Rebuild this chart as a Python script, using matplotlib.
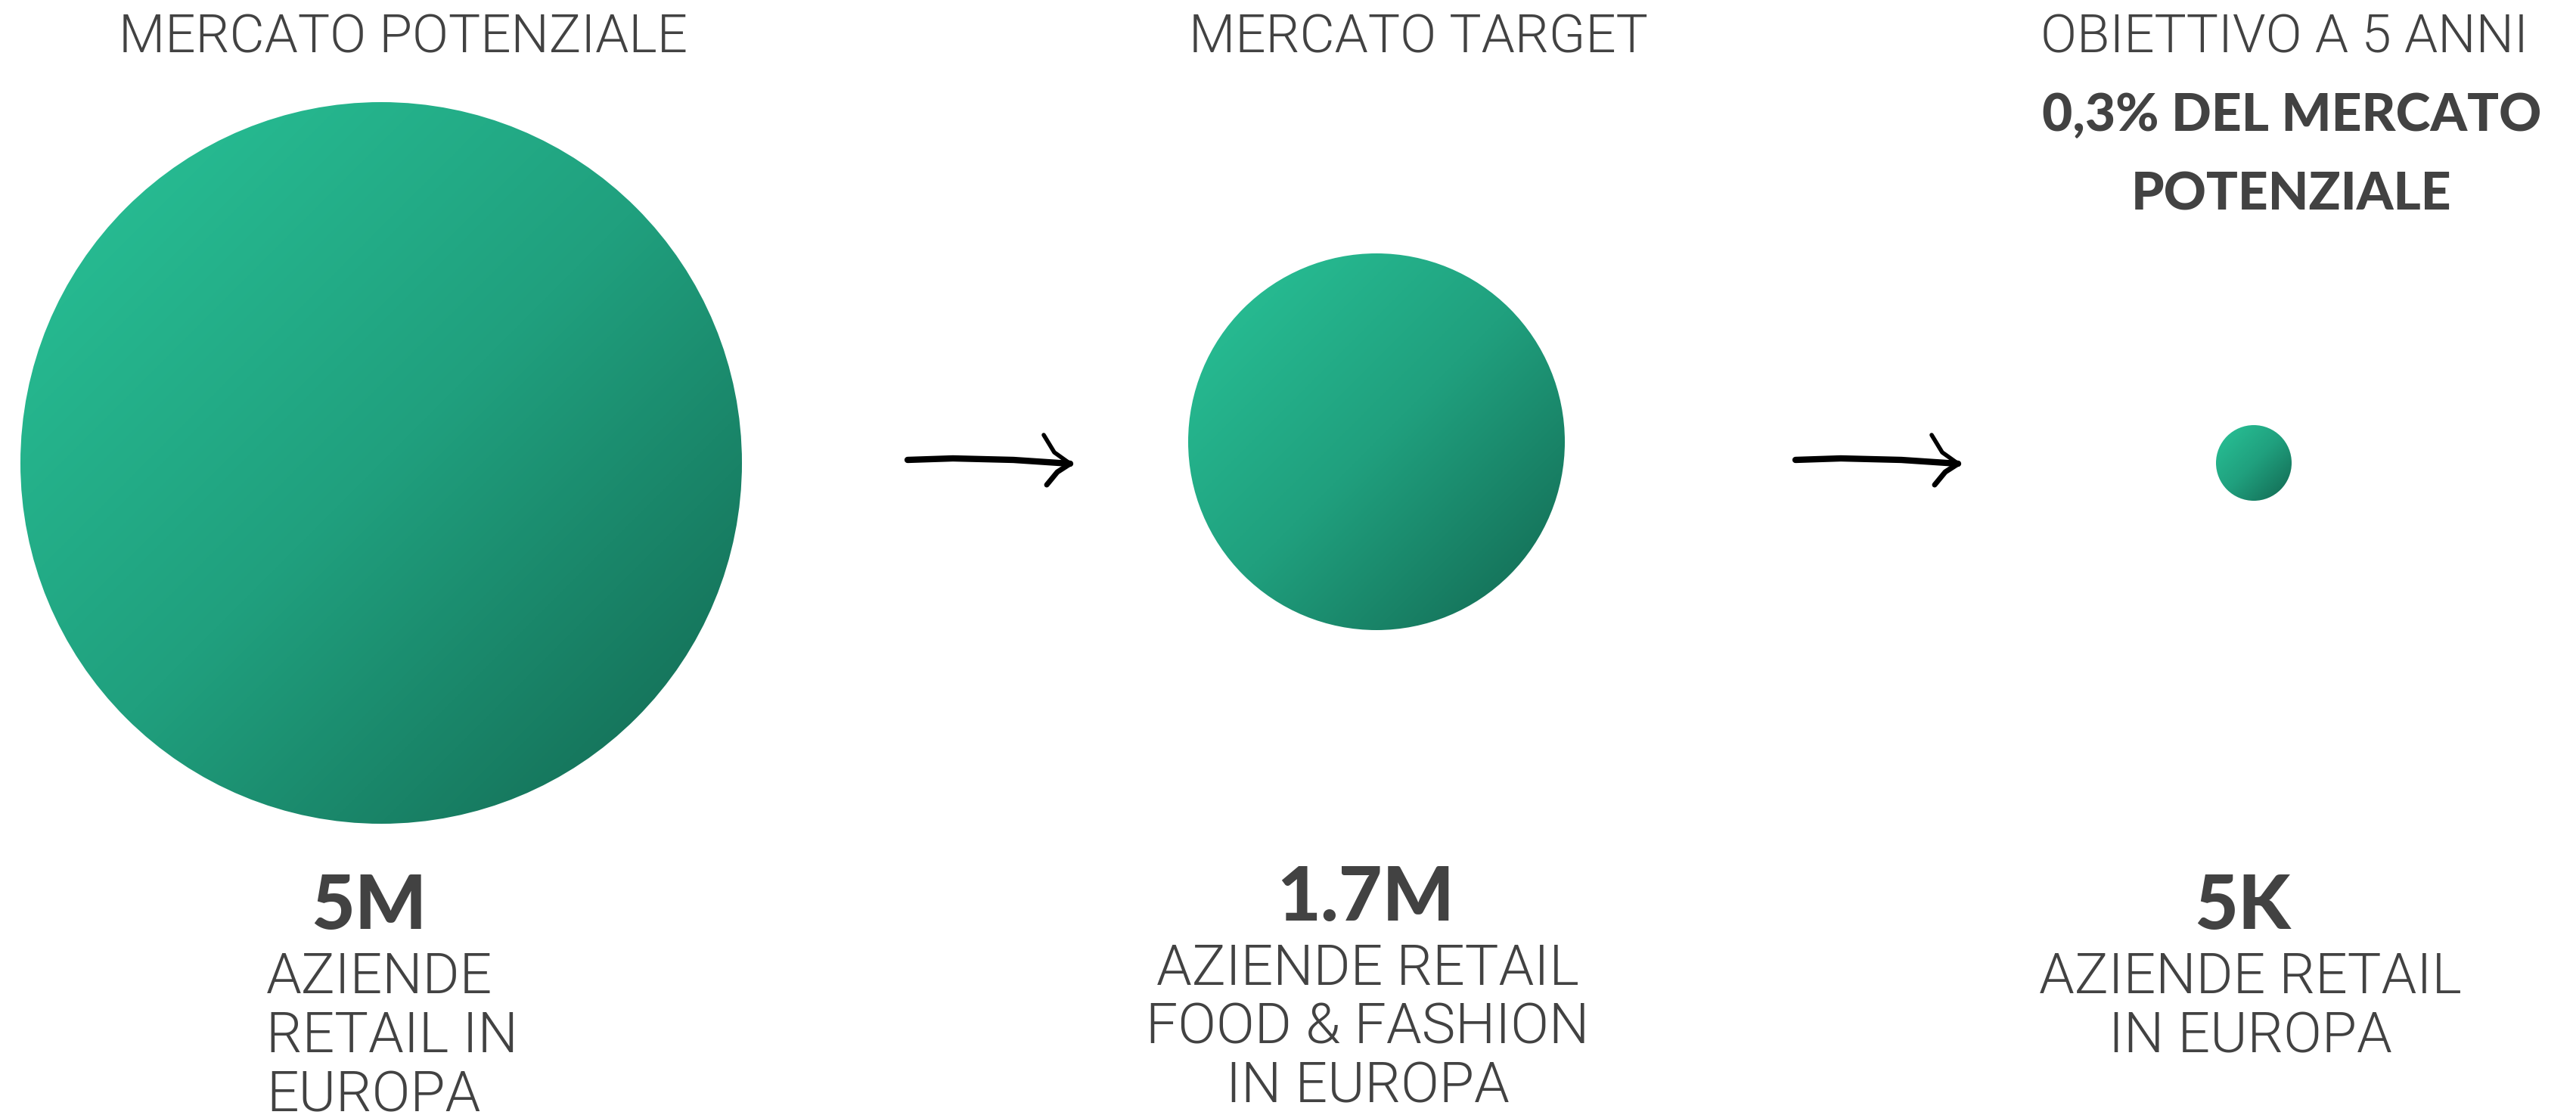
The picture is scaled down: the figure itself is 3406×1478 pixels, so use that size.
import matplotlib
matplotlib.use("Agg")
import matplotlib.pyplot as plt
import numpy as np
from matplotlib.patches import Circle
from matplotlib.colors import LinearSegmentedColormap

# data
titles = ["MERCATO POTENZIALE", "MERCATO TARGET", "OBIETTIVO A 5 ANNI"]
subtitle = ["", "", "0,3% DEL MERCATO\nPOTENZIALE"]
values = ["5M", "1.7M", "5K"]
captions = ["AZIENDE\nRETAIL IN\nEUROPA",
            "AZIENDE RETAIL\nFOOD & FASHION\nIN EUROPA",
            "AZIENDE RETAIL\nIN EUROPA"]
radius = [477, 249, 50]

# layout (pixels)
W, H = 3406, 1478
circle_x = [504, 1820, 2980]
circle_y = [612, 584, 612]
title_x = [533, 1875, 3020]
value_x = [488, 1805, 2965]
value_y = [1228, 1217, 1228]
cap_x = [352, 1808, 2975]
cap_y = [1313, 1302, 1313]
cap_ha = ["left", "center", "center"]
arrow_x = [1200, 2374]

grey = "#424242"
light_font = ["Roboto", "DejaVu Sans"]
bold_font = ["Lato", "DejaVu Sans"]
cmap = LinearSegmentedColormap.from_list("grn", ["#29C498", "#20A07E", "#126650"])

fig = plt.figure(figsize=(W / 100, H / 100), dpi=100)
ax = fig.add_axes([0, 0, 1, 1])
ax.set_xlim(0, W)
ax.set_ylim(H, 0)
ax.axis("off")

g = np.linspace(0, 1, 300)
grad = (g[None, :] + g[:, None]) / 2

for i in range(3):
    cx, cy, r = circle_x[i], circle_y[i], radius[i]
    clip = Circle((cx, cy), r, facecolor="none", edgecolor="none")
    ax.add_patch(clip)
    im = ax.imshow(grad, cmap=cmap, extent=(cx - r, cx + r, cy + r, cy - r),
                   origin="upper", interpolation="bilinear", zorder=2)
    im.set_clip_path(clip)

    ax.text(title_x[i], 69, titles[i], ha="center", va="baseline", color=grey,
            fontsize=51, family=light_font, fontweight=300)
    if subtitle[i]:
        for k, line in enumerate(subtitle[i].split("\n")):
            ax.text(3030, 173 + k * 105, line, ha="center", va="baseline",
                    color=grey, fontsize=50, family=bold_font, fontweight="black")

    ax.text(value_x[i], value_y[i], values[i], ha="center", va="baseline",
            color=grey, fontsize=72, family=bold_font, fontweight="black")
    for k, line in enumerate(captions[i].split("\n")):
        ax.text(cap_x[i], cap_y[i] + k * 78, line, ha=cap_ha[i], va="baseline",
                color=grey, fontsize=54, family=light_font, fontweight=300)

# hand drawn arrows
for x0 in arrow_x:
    xs = np.array([x0, x0 + 60, x0 + 140, x0 + 215])
    ys = np.array([608, 606, 608, 613])
    ax.plot(xs, ys, color="black", lw=6, solid_capstyle="round", zorder=3)
    ax.plot([x0 + 180, x0 + 194, x0 + 215], [575, 598, 613], color="black",
            lw=4, solid_capstyle="round", zorder=3)
    ax.plot([x0 + 184, x0 + 198, x0 + 215], [641, 624, 613], color="black",
            lw=5, solid_capstyle="round", zorder=3)

fig.savefig("out.png", dpi=100, facecolor="white")
